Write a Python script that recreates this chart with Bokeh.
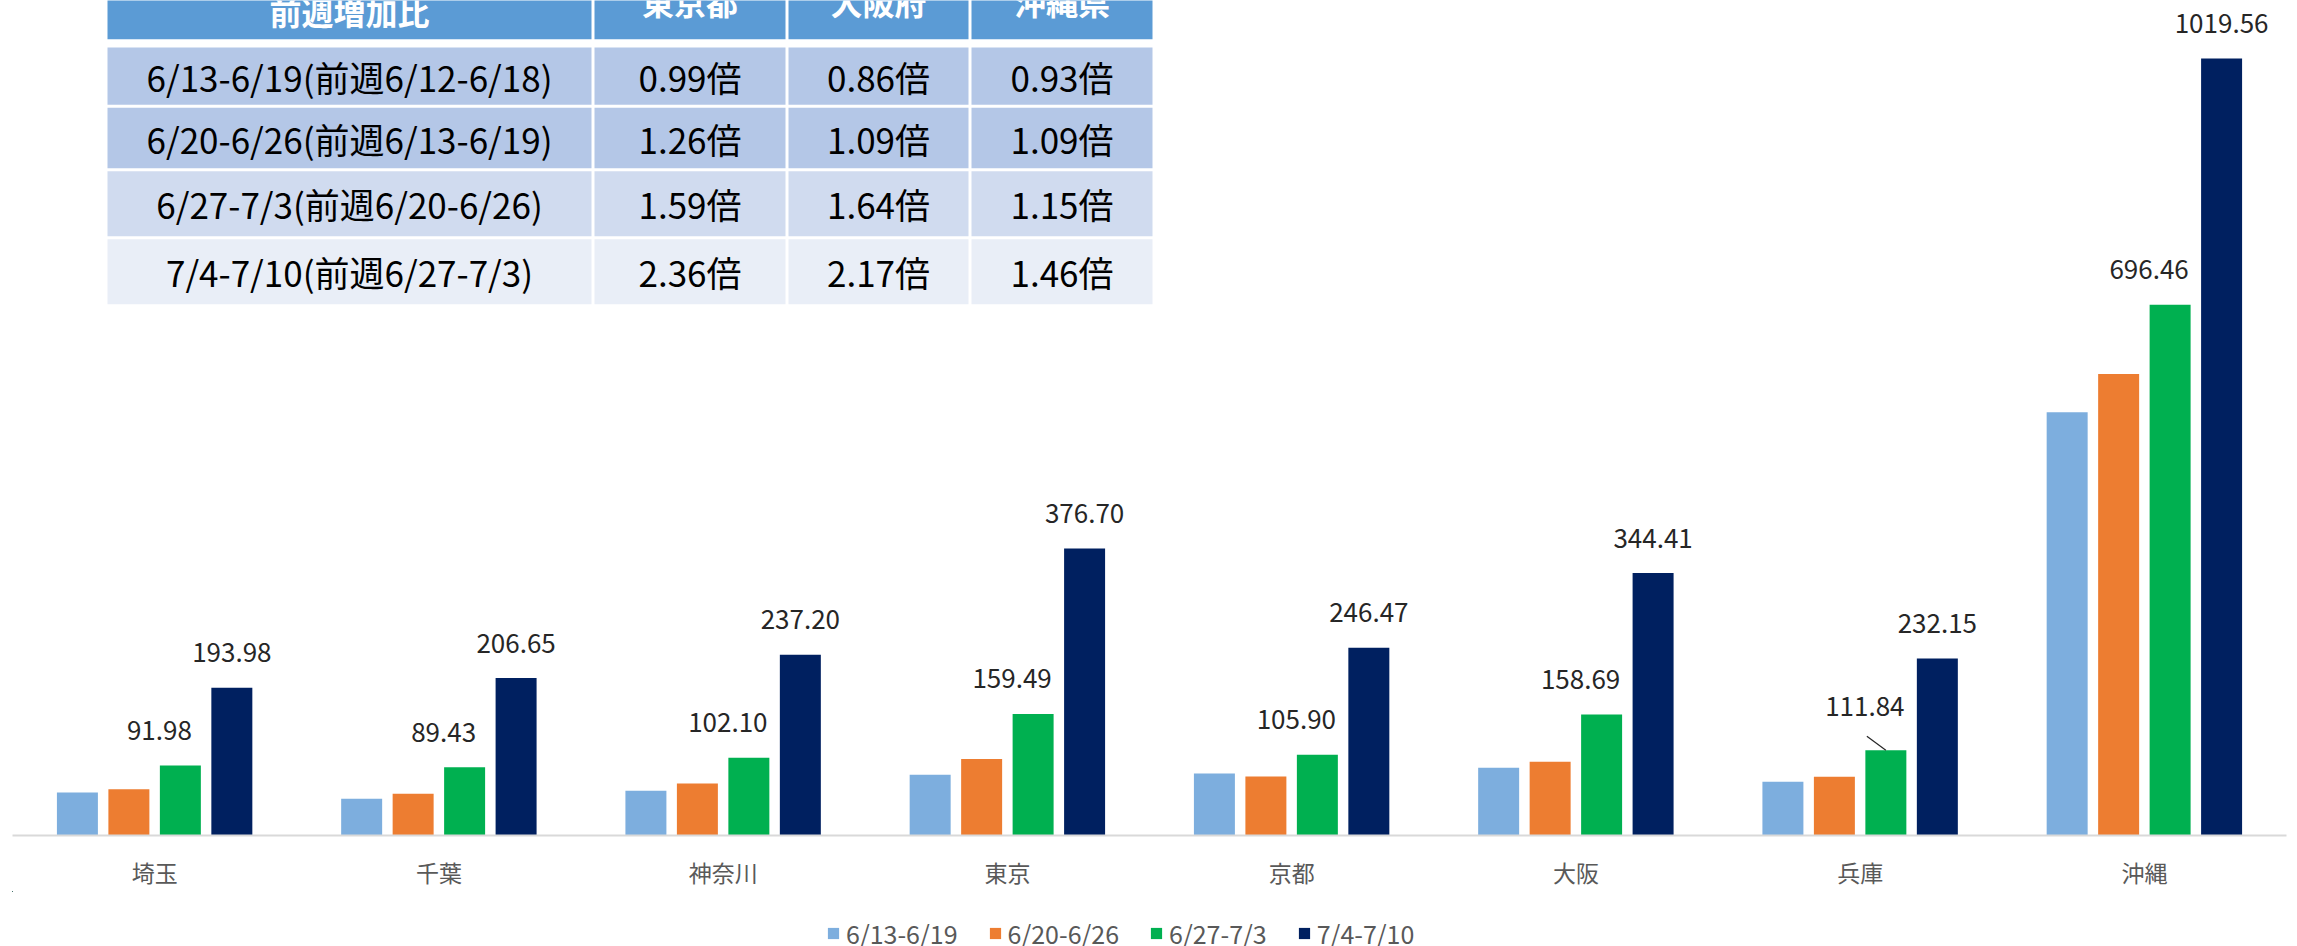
from bokeh.plotting import figure
from bokeh.layouts import column
from bokeh.models import ColumnDataSource, Range1d, Legend, LegendItem, LinearScale, FixedTicker
from bokeh.transform import dodge
from bokeh.core.properties import value
from bokeh.embed import file_html
from bokeh.resources import INLINE

# ---------------- data ----------------
prefectures = ["埼玉", "千葉", "神奈川", "東京", "京都", "大阪", "兵庫", "沖縄"]
series_names = ["6/13-6/19", "6/20-6/26", "6/27-7/3", "7/4-7/10"]
week1 = [56.4, 48.2, 58.7, 79.6, 81.4, 88.8, 70.5, 555.6]
week2 = [60.8, 54.7, 68.2, 100.3, 77.4, 96.8, 77.0, 605.6]
week3 = [91.98, 89.43, 102.10, 159.49, 105.90, 158.69, 111.84, 696.46]
week4 = [193.98, 206.65, 237.20, 376.70, 246.47, 344.41, 232.15, 1019.56]

table_header = ["前週増加比", "東京都", "大阪府", "沖縄県"]
table_periods = ["6/13-6/19(前週6/12-6/18)", "6/20-6/26(前週6/13-6/19)",
                 "6/27-7/3(前週6/20-6/26)", "7/4-7/10(前週6/27-7/3)"]
ratio_tokyo = [0.99, 1.26, 1.59, 2.36]
ratio_osaka = [0.86, 1.09, 1.64, 2.17]
ratio_okinawa = [0.93, 1.09, 1.15, 1.46]

# ---------------- style / layout ----------------
W, H = 2297, 946
BORDER_L, BORDER_R = 12, 11
FRAME_H = 835
MAIN_BOTTOM = 50
LEGEND_FIG_H = H - FRAME_H - MAIN_BOTTOM
FRAME_W = W - BORDER_L - BORDER_R
Y_MAX = 1095.8
PX_PER_UNIT = FRAME_H / Y_MAX
PX_PER_CAT = FRAME_W / len(prefectures)
colors = ["#7DAEDE", "#ED7D31", "#00B050", "#002060"]
BAR_W = 0.1442
PITCH = 0.1811
offsets = [-1.5 * PITCH, -0.5 * PITCH, 0.5 * PITCH, 1.5 * PITCH]
FONT = "Noto Sans CJK JP"

centers = [i + 0.5 for i in range(len(prefectures))]

p = figure(frame_width=FRAME_W, frame_height=FRAME_H,
           x_range=Range1d(0, len(prefectures)),
           y_range=Range1d(0, Y_MAX),
           output_backend="svg", toolbar_location=None,
           min_border_left=BORDER_L, min_border_right=BORDER_R,
           min_border_top=0, min_border_bottom=MAIN_BOTTOM,
           y_axis_location=None)
p.outline_line_color = None
p.xgrid.grid_line_color = None
p.ygrid.grid_line_color = None
p.background_fill_color = "white"
p.border_fill_color = "white"

src = ColumnDataSource(dict(xc=centers, cat=prefectures, w1=week1, w2=week2, w3=week3, w4=week4,
                            lab3=[f"{v:.2f}" for v in week3],
                            lab4=[f"{v:.2f}" for v in week4],
                            dy3=[-44 if c == "兵庫" else -35 for c in prefectures]))

for key, off, col in zip(["w1", "w2", "w3", "w4"], offsets, colors):
    p.vbar(x=dodge("xc", off), top=key, width=BAR_W,
           source=src, fill_color=col, line_color=None)

# data labels
p.text(x=dodge("xc", offsets[2]), y="w3", text="lab3", source=src,
       x_offset=-21, y_offset="dy3", text_align="center", text_baseline="middle",
       text_font=value(FONT), text_font_size="26px", text_color="#262626")
p.text(x=dodge("xc", offsets[3]), y="w4", text="lab4", source=src,
       x_offset=0, y_offset=-35, text_align="center", text_baseline="middle",
       text_font=value(FONT), text_font_size="26px", text_color="#262626")

# leader line for 兵庫 label
i_h = prefectures.index("兵庫")
lead = ColumnDataSource(dict(xc=[centers[i_h]], y0=[week3[i_h] + 14 / PX_PER_UNIT], y1=[week3[i_h]]))
p.segment(x0=dodge("xc", offsets[2] - 19 / PX_PER_CAT), y0="y0",
          x1=dodge("xc", offsets[2]), y1="y1",
          source=lead, line_color="#262626", line_width=1.2)

# x axis (category labels)
ax = p.xaxis[0]
ax.ticker = FixedTicker(ticks=centers, minor_ticks=[])
ax.major_label_overrides = {c: name for c, name in zip(centers, prefectures)}
ax.axis_line_color = "#D9D9D9"
ax.axis_line_width = 2
ax.major_tick_line_color = None
ax.minor_tick_line_color = None
ax.major_label_standoff = 13
ax.major_label_text_font = FONT
ax.major_label_text_font_size = "23px"
ax.major_label_text_color = "#595959"

# ---------------- table (pixel-like extra ranges) ----------------
p.extra_x_ranges = {"tx": Range1d(BORDER_L, W - BORDER_R)}
p.extra_x_scales = {"tx": LinearScale()}
p.extra_y_ranges = {"ty": Range1d(FRAME_H, 0)}
p.extra_y_scales = {"ty": LinearScale()}
col_left = [107, 594, 788, 971]
col_right = [591, 785, 968, 1152]
row_top = [47, 107.3, 170.7, 238.7]
row_bot = [104.3, 167.7, 235.7, 303.7]
row_colors = ["#B4C7E7", "#B4C7E7", "#D0DBEF", "#E9EEF7"]

hdr = ColumnDataSource(dict(l=col_left, r=col_right, t=[-40] * 4, b=[38.7] * 4))
p.quad(left="l", right="r", top="t", bottom="b", source=hdr,
       fill_color="#5B9BD5", line_color=None, x_range_name="tx", y_range_name="ty")
hdr_txt = ColumnDataSource(dict(x=[(a + b) / 2 for a, b in zip(col_left, col_right)],
                                y=[10, 0, 0, 0], t=table_header))
p.text(x="x", y="y", text="t", source=hdr_txt, text_align="center", text_baseline="middle",
       text_font=value(FONT), text_font_size="32px", text_font_style="bold",
       text_color="white", x_range_name="tx", y_range_name="ty")

cl, cr, ct, cb, cc = [], [], [], [], []
tx, ty, tt = [], [], []
for ri in range(4):
    cells = [table_periods[ri], f"{ratio_tokyo[ri]:.2f}倍",
             f"{ratio_osaka[ri]:.2f}倍", f"{ratio_okinawa[ri]:.2f}倍"]
    for ci in range(4):
        cl.append(col_left[ci]); cr.append(col_right[ci])
        ct.append(row_top[ri]); cb.append(row_bot[ri]); cc.append(row_colors[ri])
        tx.append((col_left[ci] + col_right[ci]) / 2)
        ty.append((row_top[ri] + row_bot[ri]) / 2)
        tt.append(cells[ci])
cells_src = ColumnDataSource(dict(l=cl, r=cr, t=ct, b=cb, c=cc))
p.quad(left="l", right="r", top="t", bottom="b", fill_color="c", line_color=None,
       source=cells_src, x_range_name="tx", y_range_name="ty")
txt_src = ColumnDataSource(dict(x=tx, y=ty, t=tt))
p.text(x="x", y="y", text="t", source=txt_src, text_align="center", text_baseline="middle",
       text_font=value(FONT), text_font_size="35px", text_color="black",
       x_range_name="tx", y_range_name="ty")

# ---------------- legend strip (own small figure under the chart) ----------------
# its bar renderers only feed the legend swatches; ranges keep them out of view
pl = figure(width=W, height=LEGEND_FIG_H, x_range=Range1d(1000, 1001),
            y_range=Range1d(-1e6, -1e6 + 1), output_backend="svg", toolbar_location=None,
            min_border=0, x_axis_location=None, y_axis_location=None)
pl.outline_line_color = None
pl.xgrid.grid_line_color = None
pl.ygrid.grid_line_color = None
pl.background_fill_color = "white"
pl.border_fill_color = "white"
leg_renderers = []
for key, off, col in zip(["w1", "w2", "w3", "w4"], offsets, colors):
    leg_renderers.append(pl.vbar(x=dodge("xc", off), top=key, width=BAR_W,
                                 source=src, fill_color=col, line_color=None))
legend = Legend(items=[LegendItem(label=n, renderers=[r]) for n, r in zip(series_names, leg_renderers)],
                orientation="horizontal", location=(814, 1),
                glyph_width=14, glyph_height=14, label_standoff=6, spacing=30,
                padding=0, margin=0, border_line_color=None, background_fill_alpha=0,
                label_text_font=FONT, label_text_font_size="25px", label_text_color="#595959")
pl.add_layout(legend)

layout = column(p, pl, spacing=0)
open("out.html", "w").write(file_html(layout, INLINE))
